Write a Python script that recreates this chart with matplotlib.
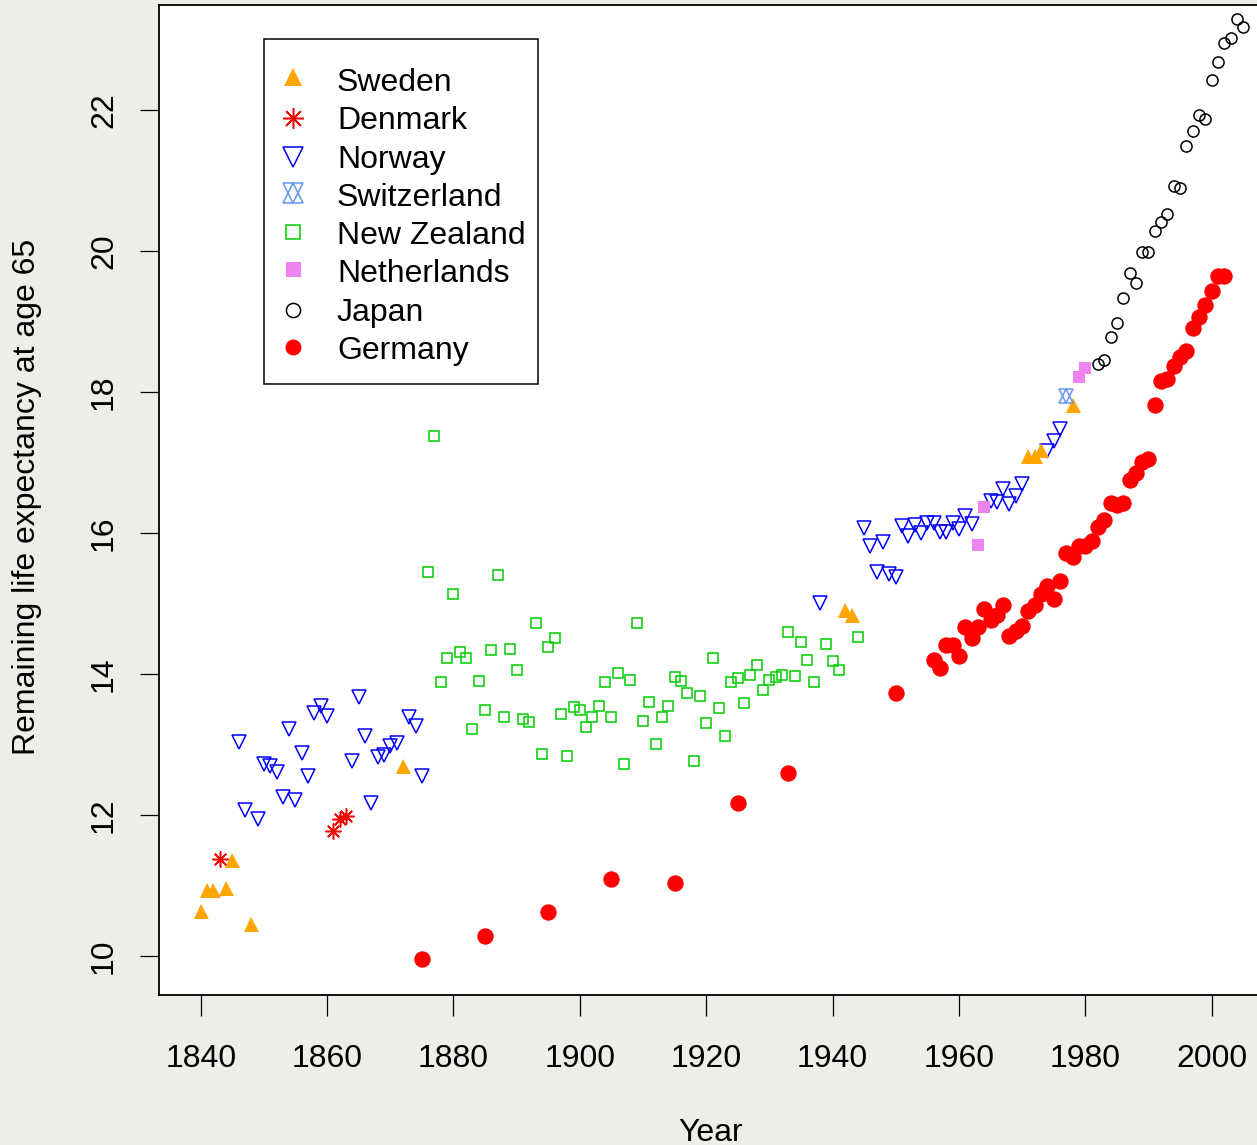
import matplotlib
matplotlib.use("Agg")
import matplotlib.pyplot as plt
from matplotlib.patches import Rectangle

plt.rcParams['font.family'] = ['Liberation Sans', 'DejaVu Sans']

# ---------------- data ----------------
sweden_years = [1840, 1841, 1842, 1844, 1845, 1848, 1872, 1942, 1943, 1971, 1972, 1973, 1978]
sweden_vals = [10.64, 10.93, 10.93, 10.96, 11.36, 10.45, 12.70, 14.91, 14.84, 17.09, 17.09, 17.18, 17.82]

denmark_years = [1843, 1861, 1862, 1863]
denmark_vals = [11.37, 11.78, 11.94, 11.99]

norway_years = [1846, 1847, 1849, 1850, 1851, 1852, 1853, 1854, 1855, 1856, 1857, 1858, 1859, 1860,
                1864, 1865, 1866, 1867, 1868, 1869, 1870, 1871, 1873, 1874, 1875, 1938,
                1945, 1946, 1947, 1948, 1949, 1950, 1951, 1952, 1953, 1954, 1955, 1956, 1957, 1958,
                1959, 1960, 1961, 1962, 1965, 1966, 1967, 1968, 1969, 1970, 1974, 1975, 1976]
norway_vals = [13.03, 12.07, 11.94, 12.72, 12.70, 12.61, 12.26, 13.22, 12.21, 12.88, 12.55, 13.44, 13.54, 13.40,
               12.76, 13.67, 13.12, 12.17, 12.82, 12.85, 12.98, 13.02, 13.39, 13.26, 12.56, 15.00,
               16.07, 15.82, 15.44, 15.87, 15.42, 15.38, 16.10, 15.96, 16.11, 16.00, 16.14, 16.14, 16.02, 16.02,
               16.14, 16.05, 16.24, 16.13, 16.46, 16.44, 16.63, 16.41, 16.52, 16.69, 17.16, 17.31, 17.47]

switzerland_years = [1977]
switzerland_vals = [17.94]

nz_years = [1876, 1877, 1878, 1879, 1880, 1881, 1882, 1883, 1884, 1885, 1886, 1887, 1888, 1889, 1890,
            1891, 1892, 1893, 1894, 1895, 1896, 1897, 1898, 1899, 1900, 1901, 1902, 1903, 1904, 1905,
            1906, 1907, 1908, 1909, 1910, 1911, 1912, 1913, 1914, 1915, 1916, 1917, 1918, 1919, 1920,
            1921, 1922, 1923, 1924, 1925, 1926, 1927, 1928, 1929, 1930, 1931, 1932, 1933, 1934, 1935,
            1936, 1937, 1939, 1940, 1941, 1944]
nz_vals = [15.45, 17.37, 13.89, 14.23, 15.14, 14.31, 14.23, 13.22, 13.90, 13.49, 14.34, 15.40, 13.39, 14.36, 14.06,
           13.36, 13.32, 14.73, 12.87, 14.38, 14.51, 13.43, 12.83, 13.53, 13.49, 13.25, 13.39, 13.54, 13.88, 13.39,
           14.01, 12.73, 13.91, 14.72, 13.34, 13.60, 13.01, 13.39, 13.55, 13.96, 13.90, 13.73, 12.76, 13.69, 13.31,
           14.23, 13.52, 13.12, 13.88, 13.95, 13.59, 13.99, 14.13, 13.78, 13.92, 13.96, 13.99, 14.59, 13.97, 14.45,
           14.20, 13.89, 14.42, 14.19, 14.05, 14.53]

netherlands_years = [1963, 1964, 1979, 1980]
netherlands_vals = [15.83, 16.37, 18.21, 18.34]

japan_years = [1982, 1983, 1984, 1985, 1986, 1987, 1988, 1989, 1990, 1991, 1992, 1993, 1994,
               1995, 1996, 1997, 1998, 1999, 2000, 2001, 2002, 2003, 2004, 2005]
japan_vals = [18.39, 18.45, 18.78, 18.98, 19.33, 19.69, 19.55, 19.98, 19.98, 20.28, 20.41, 20.53, 20.92,
              20.89, 21.49, 21.70, 21.93, 21.87, 22.42, 22.68, 22.95, 23.02, 23.29, 23.17]

germany_years = [1875, 1885, 1895, 1905, 1915, 1925, 1933, 1950,
                 1956, 1957, 1958, 1959, 1960, 1961, 1962, 1963, 1964, 1965, 1966, 1967, 1968, 1969,
                 1970, 1971, 1972, 1973, 1974, 1975, 1976, 1977, 1978, 1979, 1980, 1981, 1982, 1983,
                 1984, 1985, 1986, 1987, 1988, 1989, 1990, 1991, 1992, 1993, 1994, 1995, 1996, 1997,
                 1998, 1999, 2000, 2001, 2002]
germany_vals = [9.96, 10.29, 10.62, 11.09, 11.03, 12.17, 12.59, 13.73,
                14.20, 14.09, 14.41, 14.41, 14.26, 14.66, 14.51, 14.67, 14.92, 14.76, 14.84, 14.98, 14.54, 14.61,
                14.68, 14.89, 14.98, 15.13, 15.25, 15.07, 15.32, 15.72, 15.66, 15.81, 15.81, 15.88, 16.09, 16.18,
                16.43, 16.40, 16.43, 16.75, 16.85, 17.00, 17.05, 17.82, 18.15, 18.18, 18.37, 18.50, 18.58, 18.91,
                19.06, 19.24, 19.43, 19.65, 19.65]

x_ticks = [1840, 1860, 1880, 1900, 1920, 1940, 1960, 1980, 2000]
y_ticks = [10, 12, 14, 16, 18, 20, 22]
legend_labels = ["Sweden", "Denmark", "Norway", "Switzerland", "New Zealand",
                 "Netherlands", "Japan", "Germany"]
x_label = "Year"
y_label = "Remaining life expectancy at age 65"

# ---------------- figure ----------------
W, H = 1257, 1145
FS = 23
fig = plt.figure(figsize=(W / 100, H / 100), dpi=100, facecolor='#EDEDE9')


def fx(px):
    return px / W


def fy(py):
    return 1 - py / H


ax_l, ax_r, ax_t, ax_b = 158.5, 1270, 5, 995
ax = fig.add_axes([fx(ax_l), fy(ax_b), (ax_r - ax_l) / W, (ax_b - ax_t) / H])
ax.set_facecolor('white')
ax.set_xlim(1833.32, 2009.23)
ax.set_ylim(9.447, 23.489)

lw = 1.1
styles = {
    "Sweden": dict(marker='^', ms=10.8, color='#FFA500', mew=0, ls='none'),
    "Denmark": dict(marker=(8, 2, 0), ms=11.5, color='#FF0000', mew=lw, ls='none'),
    "Norway": dict(marker='v', ms=10.5, color='#0000FF', mfc='none', mew=lw, ls='none'),
    "Switzerland": dict(marker='^', ms=10.5, color='#6495ED', mfc='none', mew=lw, ls='none'),
    "New Zealand": dict(marker='s', ms=7.2, color='#00CD00', mfc='none', mew=lw, ls='none'),
    "Netherlands": dict(marker='s', ms=8.6, color='#EE82EE', mew=0, ls='none'),
    "Japan": dict(marker='o', ms=8.0, color='black', mfc='none', mew=lw, ls='none'),
    "Germany": dict(marker='o', ms=11.8, color='#FF0000', mew=0, ls='none'),
}

ax.plot(nz_years, nz_vals, **styles["New Zealand"])
ax.plot(norway_years, norway_vals, **styles["Norway"])
ax.plot(sweden_years, sweden_vals, **styles["Sweden"])
ax.plot(denmark_years, denmark_vals, **styles["Denmark"])
ax.plot(switzerland_years, switzerland_vals, **styles["Switzerland"])
ax.plot(switzerland_years, switzerland_vals, **dict(styles["Switzerland"], marker='v'))
ax.plot(netherlands_years, netherlands_vals, **styles["Netherlands"])
ax.plot(japan_years, japan_vals, **styles["Japan"])
ax.plot(germany_years, germany_vals, **styles["Germany"])

ax.set_xticks(x_ticks)
ax.set_yticks(y_ticks)
ax.set_yticklabels([str(v) for v in y_ticks], rotation=90, va='center')
ax.tick_params(axis='x', length=15, width=0.9, pad=20, labelsize=FS, color='black')
ax.tick_params(axis='y', length=13.5, width=0.9, pad=15, labelsize=FS, color='black')
for s in ax.spines.values():
    s.set_linewidth(1.3)

fig.text(fx(711), fy(1141), x_label, ha='center', va='baseline', fontsize=FS)
fig.text(fx(27.5), fy(497), y_label, ha='center', va='center', rotation=90, fontsize=FS)

# ---------------- legend (drawn by hand to match R layout) ----------------
lx0, ly0, lx1, ly1 = 264, 39, 538.3, 384.3
fig.add_artist(Rectangle((fx(lx0), fy(ly1)), (lx1 - lx0) / W, (ly1 - ly0) / H,
                         transform=fig.transFigure, fill=False, lw=1.1, ec='black', zorder=5))
marker_y = [76.5, 118.3, 156.7, 193.3, 231.7, 269.3, 310, 346.7]
text_base = [91 + 38.3 * i for i in range(8)]
leg_sizes = {"Sweden": 13.5, "Denmark": 15.0, "Norway": 14.0, "Switzerland": 14.5,
             "New Zealand": 9.8, "Netherlands": 10.8, "Japan": 10.2, "Germany": 11.5}
for lab, my, ty in zip(legend_labels, marker_y, text_base):
    st = dict(styles[lab])
    st['ms'] = leg_sizes[lab]
    fig.add_artist(plt.Line2D([fx(292.5)], [fy(my)], transform=fig.transFigure, **st))
    if lab == "Switzerland":
        st2 = dict(st, marker='v')
        fig.add_artist(plt.Line2D([fx(292.5)], [fy(my)], transform=fig.transFigure, **st2))
    fig.text(fx(337), fy(ty), lab, ha='left', va='baseline', fontsize=FS)

fig.savefig("out.png", dpi=100, facecolor=fig.get_facecolor())
